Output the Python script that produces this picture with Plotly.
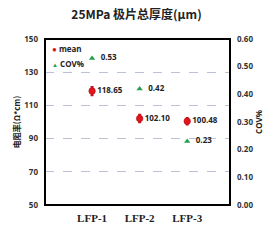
import plotly.graph_objects as go

categories = ["LFP-1", "LFP-2", "LFP-3"]
mean_vals = [118.65, 102.10, 100.48]
mean_err = [2.5, 2.2, 2.0]
cov_vals = [0.53, 0.42, 0.23]
left_ticks = [50, 70, 90, 110, 130, 150]
right_ticks = [0.0, 0.1, 0.2, 0.3, 0.4, 0.5, 0.6]

RED = "#e3141b"
GREEN = "#22a050"
xpos = list(range(len(categories)))

fig = go.Figure()
fig.add_trace(go.Scatter(
    x=xpos, y=mean_vals, name="mean", mode="markers+text", showlegend=False,
    marker=dict(symbol="circle", size=6.5, color=RED, line=dict(color="#b00e14", width=0.6)),
    error_y=dict(type="data", array=mean_err, visible=True, color="#c8121a", thickness=2, width=1.5),
    text=[f"{v:.2f}" for v in mean_vals], textposition="middle right",
    textfont=dict(size=8, color="#222", family="Open Sans", weight="bold"),
    cliponaxis=False,
))
fig.add_trace(go.Scatter(
    x=xpos, y=cov_vals, name="COV%", mode="markers+text", yaxis="y2", showlegend=False,
    marker=dict(symbol="triangle-up", size=5.5, color=GREEN),
    text=[f"  {v:.2f}" for v in cov_vals], textposition="middle right",
    textfont=dict(size=8, color="#222", family="Open Sans", weight="bold"),
    cliponaxis=False,
))

legend_items = [("●", RED, 8, "mean"), ("▲", GREEN, 6, "COV%")]
annotations = []
for i, (sym, col, sz, name) in enumerate(legend_items):
    annotations.append(dict(
        xref="paper", yref="paper", x=0.025, y=0.94 - i * 0.09, xanchor="left", yanchor="middle",
        showarrow=False,
        text=f"<span style='color:{col};font-size:{sz}px'>{sym}</span> {name}",
        font=dict(family="Open Sans", size=8, color="#222", weight="bold"),
    ))

fig.update_layout(
    width=273, height=249,
    margin=dict(l=45, r=41, t=39, b=44),
    paper_bgcolor="white", plot_bgcolor="white",
    title=dict(text="25MPa 极片总厚度(μm)", x=0.5, xanchor="center", y=0.94, yanchor="middle",
               font=dict(family="Noto Sans CJK SC", size=12, color="#222", weight="bold")),
    showlegend=False,
    annotations=annotations,
    xaxis=dict(range=[-0.99, 2.9], tickvals=xpos, ticktext=categories, showgrid=False,
               zeroline=False, ticks="", ticklabelstandoff=5,
               tickfont=dict(family="Liberation Serif", size=11, color="#222", weight="bold")),
    yaxis=dict(range=[50, 150], tickvals=left_ticks, showgrid=True, gridcolor="#b9c3d3",
               griddash="dash", gridwidth=1, zeroline=False, ticks="", ticklabelstandoff=6,
               tickfont=dict(family="Open Sans", size=8, color="#333", weight="bold"),
               title=dict(text="电阻率(Ω*cm)", standoff=2,
                          font=dict(family="Noto Sans CJK SC", size=8, color="#222", weight="bold"))),
    yaxis2=dict(range=[0, 0.6], tickvals=right_ticks, tickformat=".2f", overlaying="y", side="right",
                showgrid=False, zeroline=False, ticks="", ticklabelstandoff=6,
                tickfont=dict(family="Open Sans", size=8, color="#333", weight="bold"),
                title=dict(text="COV%", standoff=2,
                           font=dict(family="Open Sans", size=8, color="#222", weight="bold"))),
    shapes=[dict(type="rect", xref="paper", yref="paper", x0=0, y0=0, x1=1, y1=1,
                 line=dict(color="black", width=2), layer="above")],
)

fig.write_html("out.html")
